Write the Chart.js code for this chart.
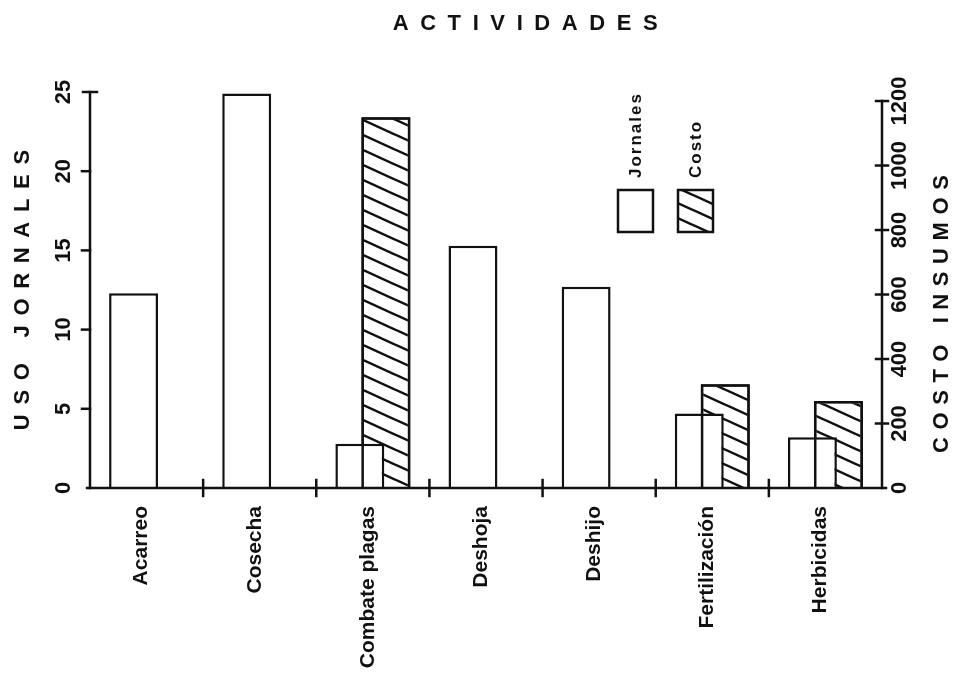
<!DOCTYPE html>
<html lang="es">
<head>
<meta charset="utf-8">
<title>Actividades</title>
<script src="https://cdn.jsdelivr.net/npm/chart.js"></script>
<style>
  html, body { margin: 0; padding: 0; background: #fff; }
  #wrap { width: 969px; height: 697px; position: relative; }
</style>
</head>
<body>
<div id="wrap"><canvas id="grafica"></canvas></div>
<script>
// datos
const actividades = ['Acarreo', 'Cosecha', 'Combate plagas', 'Deshoja', 'Deshijo', 'Fertilización', 'Herbicidas'];
const jornales = [12.3, 24.9, 2.8, 15.3, 12.7, 4.7, 3.2];
const costo = [null, null, 1150, null, null, 322, 270];
const ticksJornales = [0, 5, 10, 15, 20, 25];
const ticksCosto = [0, 200, 400, 600, 800, 1000, 1200];

const FUENTE = '"Liberation Sans", Arial, sans-serif';
const NEGRO = '#111';
const GROSOR = 2.5;

// rayado diagonal para la serie "Costo"
function crearRayado() {
    const c = document.createElement('canvas');
    c.width = 33;
    c.height = 15;
    const g = c.getContext('2d');
    g.fillStyle = '#fff';
    g.fillRect(0, 0, 33, 15);
    g.strokeStyle = NEGRO;
    g.lineWidth = GROSOR;
    for (const d of [-15, 0, 15]) {
        g.beginPath();
        g.moveTo(-5, d - 5 * 15 / 33);
        g.lineTo(38, d + 38 * 15 / 33);
        g.stroke();
    }
    return g.createPattern(c, 'repeat');
}
const rayado = crearRayado();

// texto girado 90 grados (se lee de abajo hacia arriba)
function textoVertical(ctx, texto, x, y, tam, espacio, alinear) {
    ctx.save();
    ctx.translate(x, y);
    ctx.rotate(-Math.PI / 2);
    ctx.font = `bold ${tam}px ${FUENTE}`;
    ctx.letterSpacing = espacio + 'px';
    ctx.textAlign = alinear || 'center';
    ctx.textBaseline = 'middle';
    ctx.fillStyle = NEGRO;
    ctx.fillText(texto, alinear === 'left' ? 0 : espacio / 2, 0);
    ctx.restore();
}

function linea(ctx, x1, y1, x2, y2) {
    ctx.beginPath();
    ctx.moveTo(x1, y1);
    ctx.lineTo(x2, y2);
    ctx.stroke();
}

const ejes = {
    id: 'ejes',
    afterDatasetsDraw(chart) {
        // el contorno de las barras de costo se ve por encima de las de jornales
        const ctx = chart.ctx;
        const meta = chart.getDatasetMeta(1);
        const m = GROSOR / 2;
        ctx.save();
        ctx.strokeStyle = NEGRO;
        ctx.lineWidth = GROSOR;
        meta.data.forEach((barra, i) => {
            if (costo[i] == null) return;
            const { x, y, base, width } = barra.getProps(['x', 'y', 'base', 'width'], true);
            const l = x - width / 2 + m, r = x + width / 2 - m;
            ctx.beginPath();
            ctx.moveTo(l, base);
            ctx.lineTo(l, y + m);
            ctx.lineTo(r, y + m);
            ctx.lineTo(r, base);
            ctx.stroke();
        });
        ctx.restore();
    },
    afterDraw(chart) {
        const { ctx, chartArea: a, scales } = chart;
        const sx = scales.x, sy = scales.y, sy2 = scales.y2;
        ctx.save();
        ctx.strokeStyle = NEGRO;
        ctx.lineWidth = GROSOR;
        ctx.lineCap = 'square';

        // eje izquierdo
        const y0 = sy.getPixelForValue(0);
        linea(ctx, a.left, y0, a.left, sy.getPixelForValue(25));
        ticksJornales.forEach(v => {
            const py = sy.getPixelForValue(v);
            if (v === 25) linea(ctx, a.left - 7, py, a.left + 7, py);
            else if (v > 0) linea(ctx, a.left - 8, py, a.left, py);
            textoVertical(ctx, String(v), a.left - 26, py, 22, 0);
        });
        textoVertical(ctx, 'USO JORNALES', a.left - 67, (a.top + a.bottom) / 2, 22, 9.7);

        // eje inferior
        linea(ctx, a.left - 3, y0, a.right + 4, y0);
        for (let i = 0; i < actividades.length - 1; i++) {
            const px = sx.getPixelForValue(i + 0.5);
            linea(ctx, px, y0 - 8, px, y0 + 8);
        }

        // eje derecho
        const c0 = sy2.getPixelForValue(0);
        linea(ctx, a.right, c0, a.right, sy2.getPixelForValue(1200));
        ticksCosto.forEach(v => {
            const py = sy2.getPixelForValue(v);
            if (v > 0) linea(ctx, a.right - 6, py, a.right + 6, py);
            textoVertical(ctx, String(v), a.right + 18, py, 22, 0);
        });
        textoVertical(ctx, 'COSTO INSUMOS', a.right + 60, (a.top + a.bottom) / 2 + 24, 22, 7.6);

        // titulo
        ctx.font = `bold 22px ${FUENTE}`;
        ctx.letterSpacing = '11.6px';
        ctx.textAlign = 'center';
        ctx.textBaseline = 'middle';
        ctx.fillStyle = NEGRO;
        ctx.fillText('ACTIVIDADES', 531, 24);
        ctx.letterSpacing = '0px';

        // leyenda
        chart.data.datasets.forEach((ds, i) => {
            const bx = 618 + i * 60, by = 190;
            ctx.fillStyle = ds.backgroundColor;
            ctx.fillRect(bx, by, 35, 42);
            ctx.strokeRect(bx, by, 35, 42);
            textoVertical(ctx, ds.label, bx + 18, by - 12, 17, 2, 'left');
        });
        ctx.restore();
    }
};

new Chart(document.getElementById('grafica'), {
    type: 'bar',
    data: {
        labels: actividades,
        datasets: [
            {
                label: 'Jornales',
                data: jornales,
                yAxisID: 'y',
                backgroundColor: '#fff',
                borderColor: NEGRO,
                borderWidth: GROSOR,
                categoryPercentage: 0.46,
                barPercentage: 1.88
            },
            {
                label: 'Costo',
                data: costo,
                yAxisID: 'y2',
                backgroundColor: rayado,
                borderColor: NEGRO,
                borderWidth: GROSOR,
                categoryPercentage: 0.46,
                barPercentage: 1.88
            }
        ]
    },
    options: {
        responsive: true,
        maintainAspectRatio: false,
        animation: false,
        layout: { padding: { top: 92 } },
        plugins: {
            legend: { display: false },
            tooltip: { enabled: false }
        },
        scales: {
            x: {
                grid: { display: false, drawTicks: false },
                border: { display: false },
                ticks: {
                    autoSkip: false,
                    minRotation: 90,
                    maxRotation: 90,
                    padding: 18,
                    labelOffset: -5,
                    color: NEGRO,
                    font: { family: FUENTE, size: 21, weight: 'bold' }
                },
                afterFit(s) { s.height = 209; }
            },
            y: {
                position: 'left',
                min: 0,
                max: 25,
                grid: { display: false },
                border: { display: false },
                ticks: { display: false },
                afterFit(s) { s.width = 90; }
            },
            y2: {
                position: 'right',
                min: 0,
                max: 1228,
                grid: { display: false },
                border: { display: false },
                ticks: { display: false },
                afterFit(s) { s.width = 87; }
            }
        }
    },
    plugins: [ejes]
});
</script>
</body>
</html>
